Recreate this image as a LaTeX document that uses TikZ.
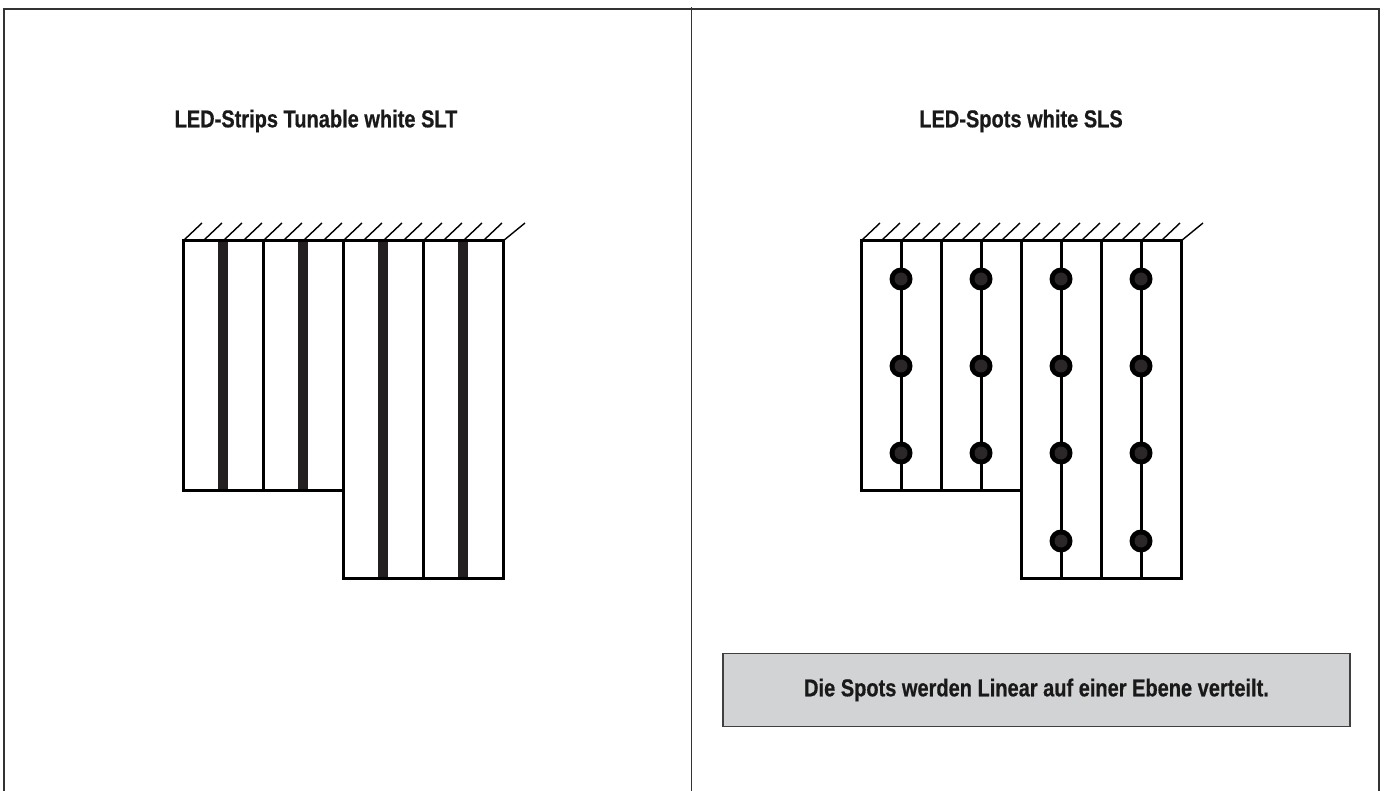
\documentclass[tikz,border=0pt]{standalone}
\usepackage{fontspec}
\setmainfont{Liberation Sans}[FakeStretch=0.82,BoldFeatures={FakeBold=0.6}]
\tikzset{
  frameline/.style={line width=1.7pt,draw=black!80},
  wall/.style={line width=3pt,draw=black,line cap=rect},
  hatch/.style={line width=1.4pt,draw=black},
  wire/.style={line width=3pt,draw=black},
  stripbar/.style={line width=10.7pt,draw=stripcol},
  spot/.style={circle,fill=black,minimum size=23pt,inner sep=0pt,path picture={\fill[spotcol] (path picture bounding box.center) circle (6.5pt);}},
  titletext/.style={font=\fontsize{24.4}{28}\bfseries,text=black!90},
  notebox/.style={draw=black!75,line width=1.7pt,fill=notecol,font=\fontsize{24.4}{28}\bfseries,text=black!90,minimum width=627pt,minimum height=73pt,inner sep=0pt}
}
\definecolor{stripcol}{HTML}{231F20}
\definecolor{spotcol}{HTML}{2B2729}
\definecolor{notecol}{HTML}{D1D3D4}
\begin{document}
\begin{tikzpicture}[x=1pt,y=-1pt]
\useasboundingbox (0,0) rectangle (1387,791);
% frame
\coordinate (fa) at (4,791); \coordinate (fb) at (4,9); \coordinate (fc) at (1379,9); \coordinate (fd) at (1379,791);
\coordinate (ma) at (691.5,7); \coordinate (mb) at (691.5,791);
\draw[frameline] (fa) -- (fb) -- (fc) -- (fd);
\draw[frameline] (ma) -- (mb);
\node[titletext] (t1) at (316,121) {LED-Strips Tunable white SLT};
\node[titletext] (t2) at (1021,121) {LED-Spots white SLS};
\node[notebox] (note) at (1036.5,690) {\raisebox{-2pt}{Die Spots werden Linear auf einer Ebene verteilt.}};
% left
\foreach \i in {0,...,16} \draw[hatch] ({183+20*\i},241) -- ({202+20*\i+(\i==16)*3},223);
\foreach \i in {0,...,16} \draw[hatch] ({861+20*\i},241) -- ({880+20*\i+(\i==16)*3},223);
\foreach \x/\yb in {223/490,303/490,383/578,463/578} \draw[stripbar] (\x,241) -- (\x,\yb);
\draw[wall] (183,241) -- (503,241) -- (503,578) -- (343,578) -- (343,490) -- (183,490) -- cycle;
\foreach \x in {263,343,423} \draw[wire] (\x,241) -- (\x,{\x>343?578:490});
% right
\foreach \x/\yb in {901/490,981/490,1061/578,1141/578} \draw[wire] (\x,241) -- (\x,\yb);
\draw[wall] (861,241) -- (1181,241) -- (1181,578) -- (1021,578) -- (1021,490) -- (861,490) -- cycle;
\foreach \x in {941,1021,1101} \draw[wire] (\x,241) -- (\x,{\x>1021?578:490});
\foreach \x in {901,981,1061,1141} \foreach \y in {279,366,453} \node[spot] at (\x,\y) {};
\foreach \x in {1061,1141} \node[spot] at (\x,541) {};
\end{tikzpicture}
\end{document}
